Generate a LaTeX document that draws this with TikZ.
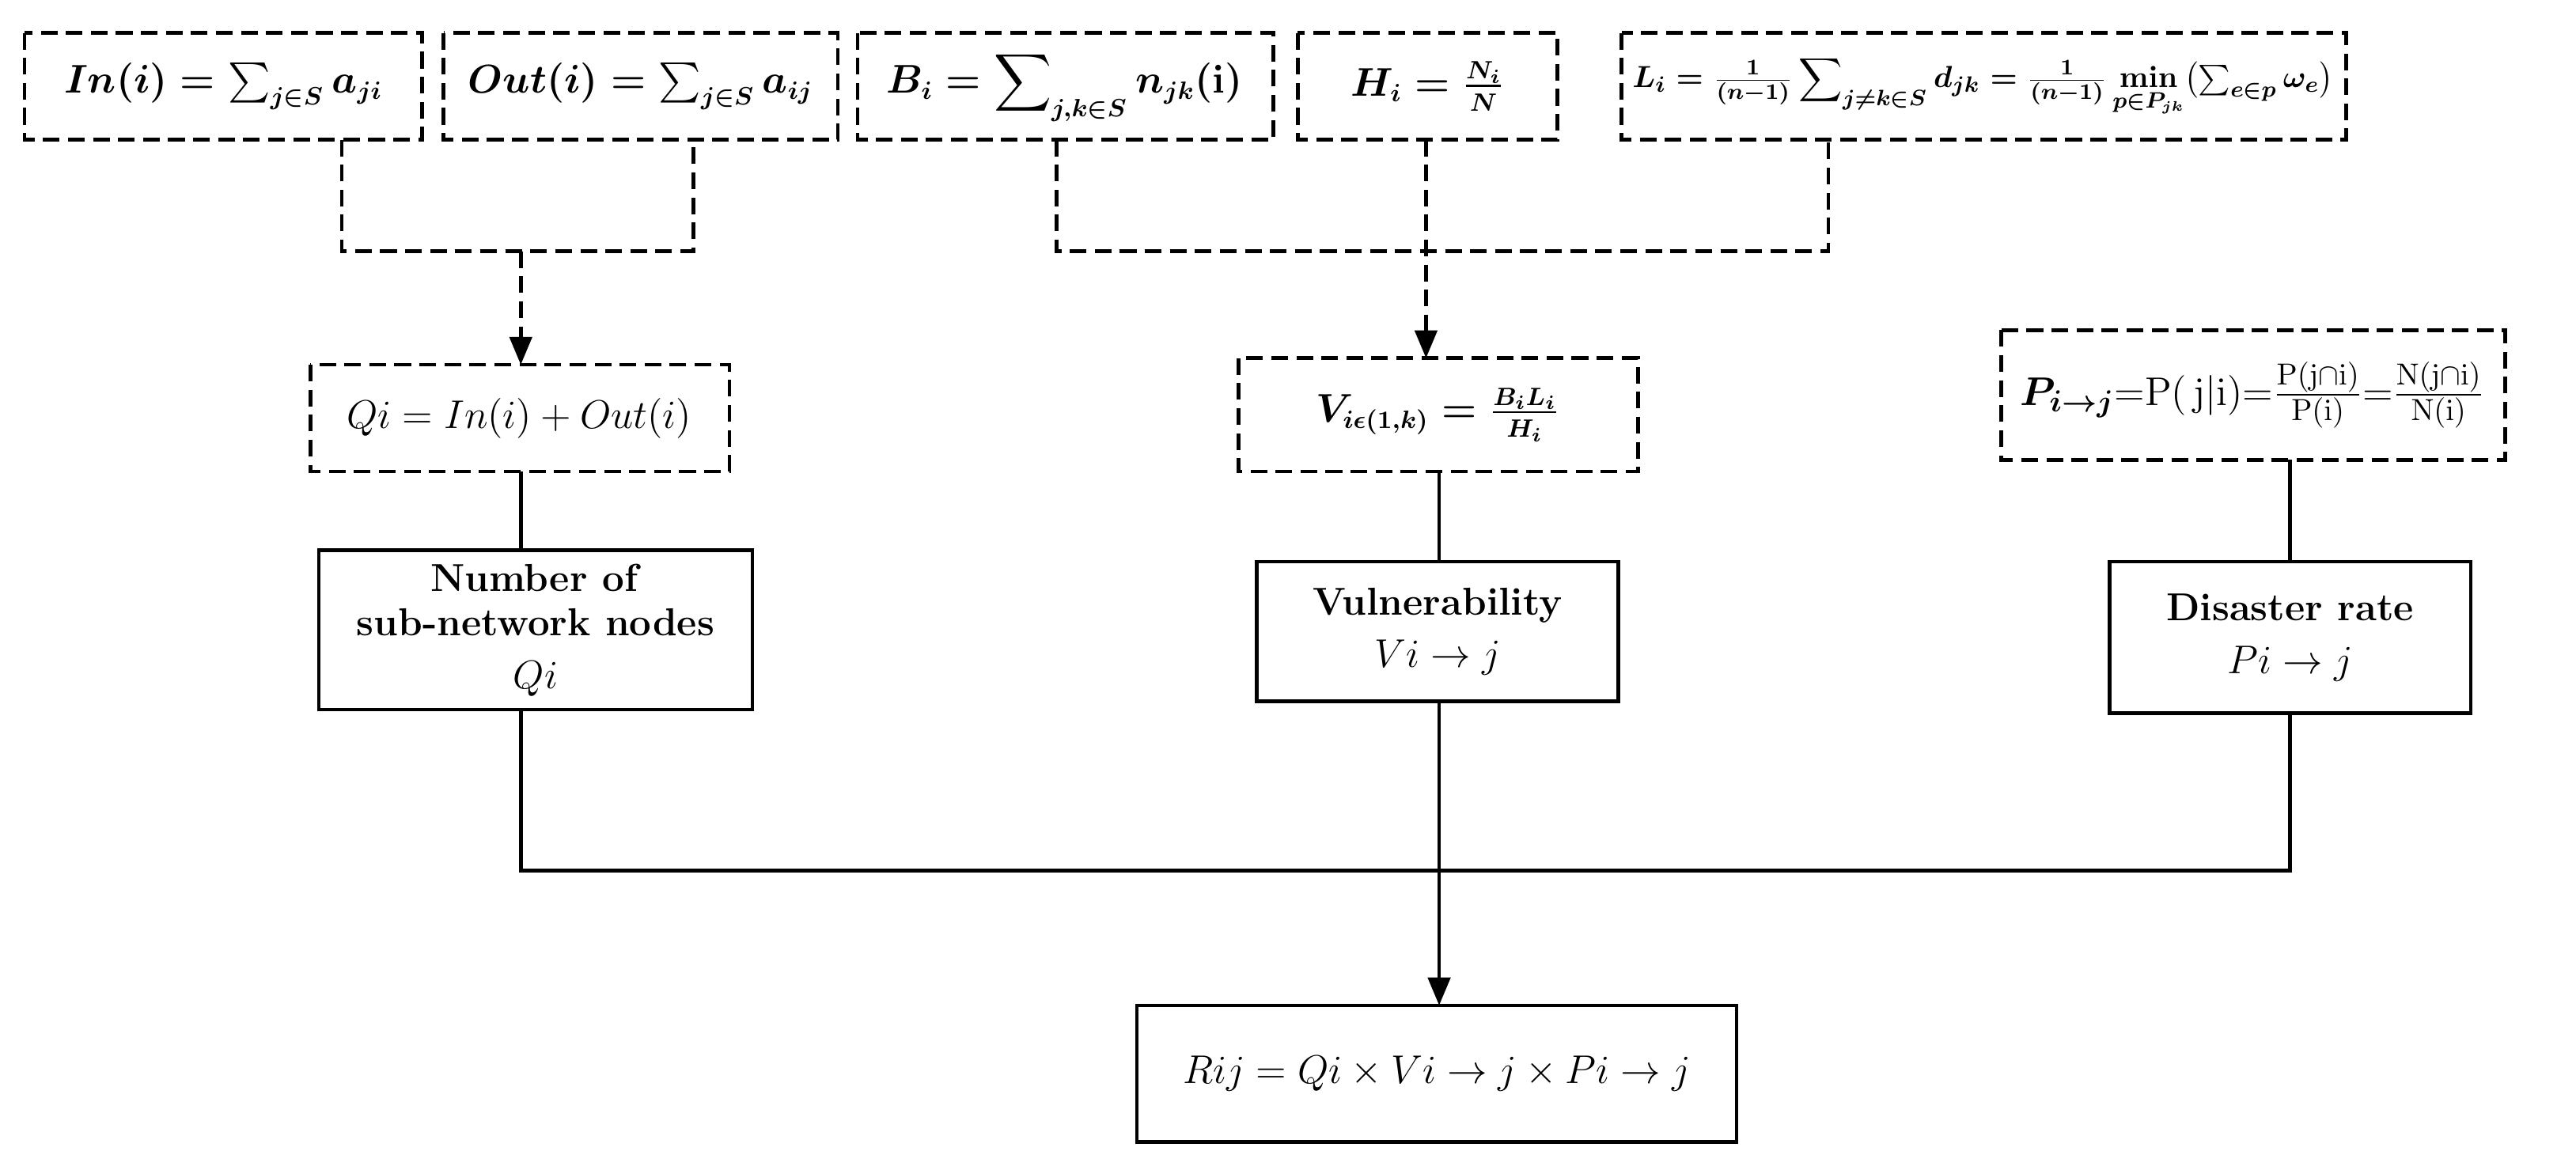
\documentclass[tikz,border=0pt]{standalone}
\usepackage{amsmath}
\usetikzlibrary{arrows.meta}
\begin{document}
\begin{tikzpicture}[x=0.02077cm,y=-0.02077cm,
  db/.style={draw,dashed,line width=1.3pt,dash pattern=on 6pt off 3pt},
  sb/.style={draw,line width=1.3pt},
  dl/.style={line width=1.3pt,dash pattern=on 6pt off 3pt},
  sl/.style={line width=1.3pt},
  ar/.style={-{Triangle[length=10pt,width=8pt]}},
  every node/.style={font=\fontsize{14}{17}\selectfont},
  sm/.style={font=\fontsize{13.5}{16}\selectfont},
  xs/.style={font=\fontsize{11}{13}\selectfont}]
\useasboundingbox (0,0) rectangle (1568,712);
% top row
\draw[db] (15,20) rectangle (257,85); \node[sm] (in) at (136,52.5) {$\boldsymbol{In(i)=\sum_{j\in S}a_{ji}}$};
\draw[db] (270,20) rectangle (510,85); \node[sm] (out) at (390,52.5) {$\boldsymbol{Out(i)=\sum_{j\in S}a_{ij}}$};
\draw[db] (522,20) rectangle (775,85); \node[sm] (b) at (648,52.5) {$\boldsymbol{B_i=\displaystyle\sum\nolimits_{j,k\in S}n_{jk}(\mathrm{i})}$};
\draw[db] (790,20) rectangle (948,85); \node[sm] (h) at (869,52.5) {$\boldsymbol{H_i=\frac{N_i}{N}}$};
\draw[db] (987,20) rectangle (1428,85); \node[xs] (l) at (1207,52.5) {$\boldsymbol{L_i=\frac{1}{(n-1)}\displaystyle\sum\nolimits_{j\neq k\in S}d_{jk}=\textstyle\frac{1}{(n-1)}\min\limits_{p\in P_{jk}}\bigl(\sum\nolimits_{e\in p}\omega_e\bigr)}$};
% connectors top
\coordinate (c1) at (208,85); \coordinate (c2) at (422,85);
\draw[dl] (c1) -- (208,153) -- (422,153) -- (c2);
\coordinate (c3) at (317,153);
\draw[dl,ar] (c3) -- (317,222);
\coordinate (c4) at (643,85); \coordinate (c5) at (1113,85);
\draw[dl] (c4) -- (643,153) -- (1113,153) -- (c5);
\coordinate (c6) at (868,85);
\draw[dl,ar] (c6) -- (868,218);
% middle dashed
\draw[db] (189,222) rectangle (444,287); \node (q) at (316,254.5) {$Qi=In(i)+Out(i)$};
\draw[db] (754,218) rectangle (997,287); \node[sm] (v) at (875,252.5) {$\boldsymbol{V_{i\epsilon(1,k)}=\frac{B_iL_i}{H_i}}$};
\draw[db] (1218,201) rectangle (1525,280); \node[font=\fontsize{15}{18}\selectfont] (p) at (1371,240.5) {$\boldsymbol{P_{i\to j}}{=}\mathrm{P(\,j|i)}{=}\frac{\mathrm{P(j\cap i)}}{\mathrm{P(i)}}{=}\frac{\mathrm{N(j\cap i)}}{\mathrm{N(i)}}$};
% solid boxes
\draw[sb] (194,335) rectangle (458,432);
\node[align=center] (n) at (326,383.5) {\textbf{Number of}\\[-1pt]\textbf{sub-network nodes}\\[2pt]$Qi$};
\draw[sb] (765,342) rectangle (985,427);
\node[align=center] (vu) at (875,384.5) {\textbf{Vulnerability}\\[2pt]$Vi\to j$};
\draw[sb] (1284,342) rectangle (1504,434);
\node[align=center] (d) at (1394,388) {\textbf{Disaster rate}\\[2pt]$Pi\to j$};
\draw[sl] (317,287) -- (317,335);
\draw[sl] (876,287) -- (876,342);
\draw[sl] (1394,280) -- (1394,342);
\draw[sl] (317,432) -- (317,530) -- (1394,530) -- (1394,434);
\draw[sl,ar] (876,427) -- (876,612);
\draw[sb] (692,612) rectangle (1057,695);
\node (r) at (874.5,653.5) {$Rij=Qi\times Vi\to j\times Pi\to j$};
\end{tikzpicture}
\end{document}
